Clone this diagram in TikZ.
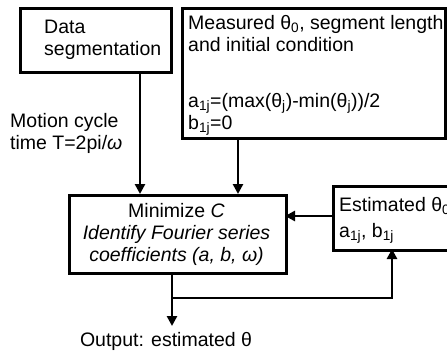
\documentclass[tikz,border=0pt]{standalone}
\usepackage{fontspec}
\setmainfont{Liberation Sans}
\usetikzlibrary{arrows.meta}
\begin{document}
\begin{tikzpicture}[x=1pt,y=-1pt,
  box/.style={draw=black,line width=3pt,rectangle,inner sep=0pt},
  txt/.style={inner sep=0pt,font=\fontsize{19.5}{22}\selectfont,align=left},
  conn/.style={line width=2.8pt,-{Triangle[length=10pt,width=10pt]}},
  plainline/.style={line width=2.8pt}]
\useasboundingbox (0,0) rectangle (447,356);
\clip (0,0) rectangle (447,356);
% boxes
\node[box,anchor=north west,minimum width=151pt,minimum height=64pt] (seg) at (19,7) {};
\node[box,anchor=north west,minimum width=263pt,minimum height=130pt] (meas) at (181,7) {};
\node[box,anchor=north west,minimum width=217pt,minimum height=78pt] (mini) at (68,194) {};
\node[box,anchor=north west,minimum width=140pt,minimum height=64pt] (est) at (332,185) {};
% texts
\node[txt,anchor=north west] (segtxt) at (44,20) {Data\\segmentation};
\node[txt,anchor=north west] (meastxt) at (188,15) {Measured θ\textsubscript{0}, segment length\\and initial condition\\[34pt]a\textsubscript{1j}=(max(θ\textsubscript{j})-min(θ\textsubscript{j}))/2\\b\textsubscript{1j}=0};
\node[txt,align=center] (minitxt) at (176.5,234) {Minimize \textit{C}\\\textit{Identify Fourier series}\\\textit{coefficients (a, b, ω)}};
\node[txt,anchor=north west] (esttxt) at (339,197) {Estimated θ\textsubscript{0}\\[4pt]a\textsubscript{1j}, b\textsubscript{1j}};
\node[txt,anchor=west] (motion) at (10,133) {Motion cycle\\time T=2pi/\textit{ω}};
\node[txt] (out) at (166,341) {Output: estimated θ};
% connectors
\coordinate (segb) at (140,71);
\coordinate (minisegt) at (140,194);
\coordinate (measb) at (238,137);
\coordinate (minimeast) at (238,194);
\coordinate (estl) at (332,216);
\coordinate (minir) at (285,216);
\coordinate (minib) at (172,272);
\coordinate (split) at (172,298);
\coordinate (corner) at (392,298);
\coordinate (estb) at (392,249);
\coordinate (outtop) at (172,326);
\draw[conn] (segb) -- (minisegt);
\draw[conn] (measb) -- (minimeast);
\draw[conn] (estl) -- (minir);
\draw[conn] (minib) -- (outtop);
\draw[conn] (split) -- (corner) -- (estb);
\end{tikzpicture}
\end{document}
